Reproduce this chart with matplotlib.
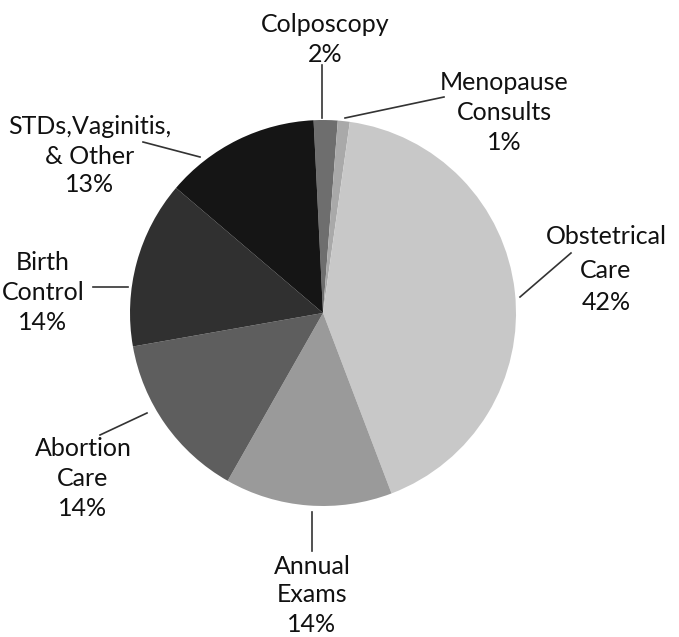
import matplotlib.pyplot as plt

labels = ['Colposcopy', 'Menopause\nConsults', 'Obstetrical\nCare', 'Annual\nExams',
          'Abortion\nCare', 'Birth\nControl', 'STDs,Vaginitis,\n& Other']
shares = [2, 1, 42, 14, 14, 14, 13]
colors = ['#6e6e6e', '#a9a9a9', '#c8c8c8', '#9a9a9a', '#5e5e5e', '#303030', '#151515']

W, H = 679, 637
fig = plt.figure(figsize=(W / 100, H / 100), dpi=100)
ax = fig.add_axes([0, 0, 1, 1])

cx, cy, r = 323, H - 313, 193
ax.pie(shares, colors=colors, startangle=92.8, counterclock=False,
       center=(cx, cy), radius=r, wedgeprops=dict(linewidth=0))

ax.set_xlim(0, W)
ax.set_ylim(0, H)
ax.set_aspect('equal')
ax.set_axis_off()

# label centre (x, y of first line in image px), line spacing, leader start/end
layout = [
    ((325, 25), 30, (322, 118), (322, 65)),
    ((504, 82), 30, (345, 118), (444, 97)),
    ((606, 237), 33, (520, 297), (571, 253)),
    ((312, 566), 29, (312, 512), (312, 551)),
    ((83, 448), 30, (147, 413), (100, 435)),
    ((43, 263), 30, (128, 287), (93, 287)),
    ((90, 127), 29, (200, 157), (143, 142)),
]

for lab, val, (pos, sp, p0, p1) in zip(labels, shares, layout):
    lines = lab.split('\n') + [f'{val}%']
    for i, ln in enumerate(lines):
        ax.text(pos[0], H - (pos[1] + i * sp), ln, ha='center', va='center',
                fontsize=18, family='Lato', color='#111111')
    ax.plot([p0[0], p1[0]], [H - p0[1], H - p1[1]], color='#333333', lw=1.2)

fig.savefig('out.png', dpi=100)
